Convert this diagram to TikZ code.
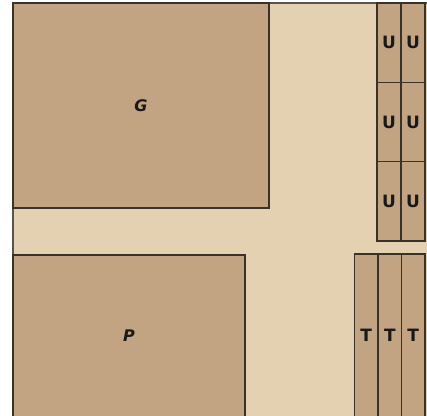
\documentclass[tikz,border=0pt]{standalone}
\usepackage{fontspec}
\setsansfont{DejaVu Sans}
\definecolor{ground}{HTML}{E3D1B2}
\definecolor{plot}{HTML}{C2A482}
\definecolor{edge}{HTML}{3A3128}
\definecolor{rim}{HTML}{5A5450}
\begin{document}
\begin{tikzpicture}[x=1pt,y=-1pt,
  lot/.style={draw=edge,fill=plot,line width=1.2pt,inner sep=0pt,outer sep=0pt,anchor=north west,
    font=\sffamily\bfseries\itshape\fontsize{16}{16}\selectfont,text=black!90},
  slim/.style={lot,minimum width=24pt,font=\sffamily\bfseries\fontsize{17}{17}\selectfont}]
\useasboundingbox (0,0) rectangle (427,415);
\fill[white] (0,0) rectangle (427,415);
\fill[ground] (13,3) rectangle (427,417);
\draw[rim,line width=1.2pt] (13,417) -- (13,3) -- (427,3);
\node[lot,minimum width=256pt,minimum height=205pt] (g) at (13,3) {G};
\node[lot,minimum width=232pt,minimum height=162pt] (p) at (13,255) {P};
\foreach \r/\y in {1/3,2/82.3,3/161.6}{
  \node[slim,minimum height=79.3pt] (u\r a) at (377,\y) {U};
  \node[slim,minimum height=79.3pt] (u\r b) at (401,\y) {U};
}
\node[slim,minimum width=23.7pt,minimum height=163pt] (t1) at (354.3,254) {T};
\node[slim,minimum width=23.7pt,minimum height=163pt] (t2) at (378,254) {T};
\node[slim,minimum width=23.7pt,minimum height=163pt] (t3) at (401.3,254) {T};
\end{tikzpicture}
\end{document}
